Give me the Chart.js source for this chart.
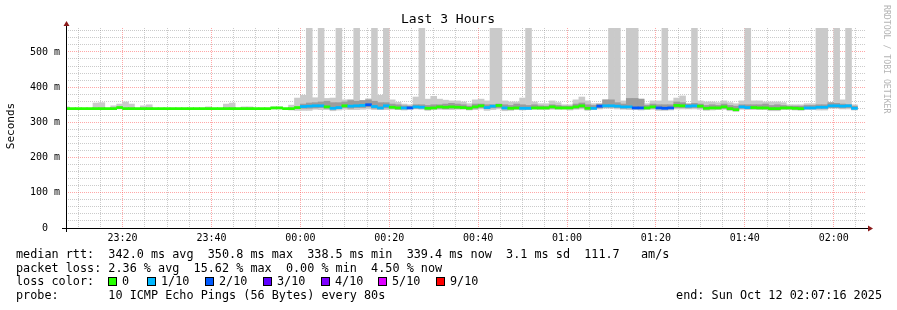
<!DOCTYPE html>
<html>
<head>
<meta charset="utf-8">
<script src="https://cdn.jsdelivr.net/npm/chart.js@4.4.1/dist/chart.umd.min.js"></script>
<style>
  html, body { margin: 0; padding: 0; background: #fff; }
</style>
</head>
<body>
<canvas id="smokeChart" width="897" height="310"></canvas>
<script>
// 80 s slots, counted from 00:00 (slot -40 is the first one, partly hidden)
const firstSlot = -40;
const slotMinutes = 80 / 60;

// median rtt per slot (ms)
const median = [
  339, 339, 339, 339, 339, 339, 339, 339, 339, 342,
  339, 339, 339, 339, 339, 339, 339, 339, 339, 339,
  339, 339, 339, 339, 339, 339, 339, 339, 339, 339,
  339, 339, 339, 339, 339, 341, 341, 339, 339, 342,
  345, 346, 347, 347, 344, 340, 342, 347, 346, 347,
  348, 350, 345, 341, 347, 343, 341, 341, 341, 344,
  343, 340, 341, 344, 343, 344, 343, 342, 340, 344,
  347, 342, 346, 348, 341, 340, 341, 340, 340, 341,
  341, 341, 344, 341, 341, 341, 344, 347, 340, 340,
  346, 347, 347, 346, 344, 344, 341, 341, 341, 344,
  341, 340, 341, 348, 347, 346, 347, 346, 340, 341,
  341, 344, 339, 336, 344, 342, 342, 341, 341, 339,
  339, 341, 341, 340, 339, 341, 341, 343, 343, 347,
  347, 346, 347, 340
];

// lost pings out of 10 per slot
const loss = [
  0, 0, 0, 0, 0, 0, 0, 0, 0, 0,
  0, 0, 0, 0, 0, 0, 0, 0, 0, 0,
  0, 0, 0, 0, 0, 0, 0, 0, 0, 0,
  0, 0, 0, 0, 0, 0, 0, 0, 0, 0,
  1, 1, 1, 1, 0, 1, 1, 0, 1, 1,
  1, 2, 1, 1, 1, 0, 0, 1, 2, 1,
  1, 0, 0, 0, 0, 0, 0, 0, 0, 0,
  0, 1, 1, 0, 1, 0, 0, 1, 1, 0,
  0, 0, 0, 0, 0, 0, 0, 0, 0, 1,
  2, 1, 1, 1, 1, 1, 2, 2, 0, 0,
  2, 2, 2, 0, 0, 1, 1, 0, 0, 0,
  0, 0, 0, 0, 1, 1, 0, 0, 0, 0,
  0, 0, 0, 0, 0, 1, 1, 1, 1, 1,
  1, 1, 1, 1
];

// smoke: fastest and slowest ping per slot (ms)
const smokeLo = [
  338, 338, 338, 338, 338, 338, 338, 338, 338, 338,
  338, 338, 338, 338, 338, 338, 338, 338, 338, 338,
  338, 338, 338, 338, 338, 338, 338, 338, 338, 338,
  338, 338, 338, 338, 338, 338, 338, 338, 335, 334,
  334, 334, 337, 336, 336, 333, 335, 337, 336, 336,
  337, 338, 336, 336, 336, 337, 336, 335, 337, 338,
  337, 334, 336, 337, 336, 336, 337, 337, 335, 336,
  338, 334, 336, 338, 333, 334, 336, 335, 336, 337,
  336, 336, 337, 337, 337, 335, 337, 338, 334, 336,
  338, 340, 340, 338, 337, 336, 336, 335, 336, 337,
  334, 334, 335, 338, 338, 338, 338, 337, 334, 335,
  336, 337, 333, 331, 337, 336, 336, 336, 336, 333,
  333, 336, 336, 335, 334, 336, 336, 335, 335, 340,
  340, 338, 338, 335
];
const smokeHi = [
  344, 339, 339, 339, 339, 355, 356, 339, 347, 352,
  358, 352, 339, 347, 350, 339, 339, 339, 339, 339,
  339, 339, 339, 339, 344, 339, 339, 352, 355, 339,
  344, 344, 339, 339, 339, 344, 344, 339, 349, 369,
  377, 600, 370, 600, 368, 369, 600, 364, 365, 600,
  362, 367, 600, 377, 600, 364, 357, 352, 350, 372,
  600, 366, 374, 366, 363, 361, 361, 358, 353, 364,
  366, 361, 600, 600, 361, 358, 358, 369, 600, 358,
  353, 353, 361, 356, 350, 350, 364, 372, 361, 353,
  353, 364, 600, 600, 361, 600, 600, 366, 353, 361,
  361, 600, 361, 369, 375, 353, 600, 361, 358, 358,
  356, 361, 356, 353, 361, 600, 361, 361, 358, 358,
  358, 356, 350, 350, 350, 353, 353, 600, 600, 356,
  600, 364, 600, 350
];

// darker inner smoke band, from slot 0 on (ms)
const midLo = [
  340, 340, 341, 342, 340, 338, 340, 342, 340, 342,
  342, 344, 340, 338, 341, 340, 338, 338, 339, 340,
  340, 338, 339, 340, 339, 340, 340, 340, 338, 340,
  342, 339, 341, 342, 338, 338, 339, 338, 338, 339,
  339, 339, 340, 339, 339, 339, 340, 342, 338, 338,
  341, 343, 343, 342, 340, 341, 339, 339, 339, 340,
  339, 338, 339, 342, 342, 341, 342, 341, 338, 339,
  339, 340, 337, 336, 340, 340, 340, 339, 339, 337,
  337, 339, 339, 338, 337, 339, 339, 340, 340, 342,
  342, 341, 342, 338
];
const midHi = [
  352, 355, 356, 358, 360, 356, 356, 358, 362, 360,
  362, 364, 360, 356, 356, 352, 350, 347, 346, 350,
  350, 348, 350, 350, 352, 354, 352, 350, 346, 352,
  352, 350, 350, 352, 350, 348, 352, 350, 348, 350,
  347, 346, 350, 348, 346, 346, 352, 355, 350, 348,
  352, 364, 364, 356, 352, 368, 368, 366, 348, 352,
  350, 350, 350, 358, 356, 352, 354, 352, 348, 350,
  348, 352, 348, 346, 350, 350, 350, 350, 352, 348,
  350, 348, 346, 346, 346, 348, 348, 350, 350, 356,
  354, 352, 350, 346
];

const lossLabels = ['0', '1/10', '2/10', '3/10', '4/10', '5/10', '9/10'];
const lossCounts = [0, 1, 2, 3, 4, 5, 9];
const lossColors = { 0: '#26ff00', 1: '#00b8ff', 2: '#0059ff', 3: '#5e00ff', 4: '#7e00ff', 5: '#dd00ff', 9: '#ff0000' };

const xTickLabels = ['23:20', '23:40', '00:00', '00:20', '00:40', '01:00', '01:20', '01:40', '02:00'];
const yTickLabels = ['0  ', '100 m', '200 m', '300 m', '400 m', '500 m'];

const legendLines = [
  'median rtt:  342.0 ms avg  350.8 ms max  338.5 ms min  339.4 ms now  3.1 ms sd  111.7   am/s',
  'packet loss: 2.36 % avg  15.62 % max  0.00 % min  4.50 % now',
  'loss color:',
  'probe:       10 ICMP Echo Pings (56 Bytes) every 80s'
];

const medianHalf = 3; // thickness of the median line, in ms

const slotTime = i => (firstSlot + i + 0.5) * slotMinutes;

const smokeData = smokeHi.map((v, i) => ({ x: slotTime(i), y: [smokeLo[i], v] }));
const midData = midHi.map((v, i) => ({ x: slotTime(i - firstSlot), y: [midLo[i], v] }));
const medianData = median.map((v, i) => ({ x: slotTime(i), y: [v - medianHalf, v + medianHalf] }));
const medianColors = loss.map(l => lossColors[l]);

function fmtTime(v) {
  const t = ((v % 1440) + 1440) % 1440;
  const h = Math.floor(t / 60), m = Math.round(t % 60);
  return String(h).padStart(2, '0') + ':' + String(m).padStart(2, '0');
}

const monoFont = '"DejaVu Sans Mono", "Liberation Mono", monospace';

// axis lines, arrows and all the rrdtool texts
const decorations = {
  id: 'decorations',
  afterDraw(chart) {
    const ctx = chart.ctx;
    const a = chart.chartArea;
    ctx.save();

    ctx.strokeStyle = '#000';
    ctx.lineWidth = 1;
    ctx.beginPath();
    ctx.moveTo(a.left - 4, a.bottom + 0.5);
    ctx.lineTo(a.right + 2, a.bottom + 0.5);
    ctx.moveTo(a.left + 0.5, a.bottom + 4);
    ctx.lineTo(a.left + 0.5, a.top - 3);
    ctx.stroke();

    ctx.fillStyle = '#8b1a1a';
    ctx.beginPath();
    ctx.moveTo(a.left - 2.5, a.top - 2);
    ctx.lineTo(a.left + 3.5, a.top - 2);
    ctx.lineTo(a.left + 0.5, a.top - 7);
    ctx.closePath();
    ctx.fill();
    ctx.beginPath();
    ctx.moveTo(a.right + 2, a.bottom - 2.5);
    ctx.lineTo(a.right + 2, a.bottom + 3.5);
    ctx.lineTo(a.right + 7, a.bottom + 0.5);
    ctx.closePath();
    ctx.fill();

    ctx.fillStyle = '#000';
    ctx.textBaseline = 'middle';
    ctx.textAlign = 'center';
    ctx.font = '13px ' + monoFont;
    ctx.fillText('Last 3 Hours', 448, 20);

    ctx.save();
    ctx.translate(11, 126);
    ctx.rotate(-Math.PI / 2);
    ctx.font = '11px ' + monoFont;
    ctx.fillText('Seconds', 0, 0);
    ctx.restore();

    ctx.save();
    ctx.translate(886, 5);
    ctx.rotate(Math.PI / 2);
    ctx.textAlign = 'left';
    ctx.fillStyle = '#b4b4b4';
    ctx.font = '8.2px ' + monoFont;
    ctx.fillText('RRDTOOL / TOBI OETIKER', 0, 0);
    ctx.restore();

    ctx.textAlign = 'left';
    ctx.font = '11.8px ' + monoFont;
    const rows = [254.5, 268.5, 282, 296];
    legendLines.forEach((line, i) => ctx.fillText(line, 16, rows[i]));

    const squareX = [108, 147, 205, 263, 321, 378, 436];
    lossCounts.forEach((c, i) => {
      ctx.fillStyle = lossColors[c];
      ctx.fillRect(squareX[i] + 0.5, 277.5, 8, 8);
      ctx.strokeStyle = '#000';
      ctx.strokeRect(squareX[i] + 0.5, 277.5, 8, 8);
      ctx.fillStyle = '#000';
      ctx.fillText(lossLabels[i], squareX[i] + 14, 282);
    });

    ctx.textAlign = 'right';
    ctx.fillText('end: Sun Oct 12 02:07:16 2025', 882, 296);
    ctx.restore();
  }
};

const majorGrid = 'rgba(255, 80, 80, 0.5)';
const minorGrid = 'rgba(140, 140, 140, 0.45)';

new Chart(document.getElementById('smokeChart').getContext('2d'), {
  type: 'bar',
  data: {
    datasets: [
      { label: 'median', data: medianData, backgroundColor: medianColors, grouped: false,
        barPercentage: 1, categoryPercentage: 1, borderWidth: 0 },
      { label: 'smoke inner', data: midData, backgroundColor: '#9c9c9c', grouped: false,
        barPercentage: 1, categoryPercentage: 1, borderWidth: 0 },
      { label: 'smoke', data: smokeData, backgroundColor: '#cacaca', grouped: false,
        barPercentage: 1, categoryPercentage: 1, borderWidth: 0 }
    ]
  },
  options: {
    responsive: false,
    animation: false,
    layout: { padding: { top: 28, right: 31, left: 0, bottom: 0 } },
    plugins: { legend: { display: false }, tooltip: { enabled: false } },
    scales: {
      x: {
        type: 'linear',
        offset: false,
        min: -52.733,
        max: 127.267,
        afterFit: s => { s.height = 82; },
        afterBuildTicks: s => {
          const t = [];
          for (let v = -50; v <= 125; v += 5) t.push({ value: v });
          s.ticks = t;
        },
        ticks: {
          autoSkip: false, maxRotation: 0, padding: 4, color: '#000',
          font: { family: monoFont, size: 10 },
          callback: v => (v % 20 === 0 && xTickLabels.includes(fmtTime(v))) ? fmtTime(v) : ''
        },
        grid: { drawTicks: false, lineWidth: 1, offset: false,
          color: c => (c.tick && c.tick.value % 20 === 0) ? majorGrid : minorGrid },
        border: { display: false, dash: [1, 1] }
      },
      y: {
        min: 0,
        max: 568,
        afterFit: s => { s.width = 66; },
        afterBuildTicks: s => {
          const t = [];
          for (let v = 0; v <= 560; v += 20) t.push({ value: v });
          s.ticks = t;
        },
        ticks: {
          autoSkip: false, padding: 6, color: '#000',
          font: { family: monoFont, size: 10 },
          callback: v => v % 100 === 0 ? yTickLabels[v / 100] : ''
        },
        grid: { drawTicks: false, lineWidth: 1,
          color: c => (c.tick && c.tick.value % 100 === 0) ? majorGrid : minorGrid },
        border: { display: false, dash: [1, 1] }
      }
    }
  },
  plugins: [decorations]
});
</script>
</body>
</html>
